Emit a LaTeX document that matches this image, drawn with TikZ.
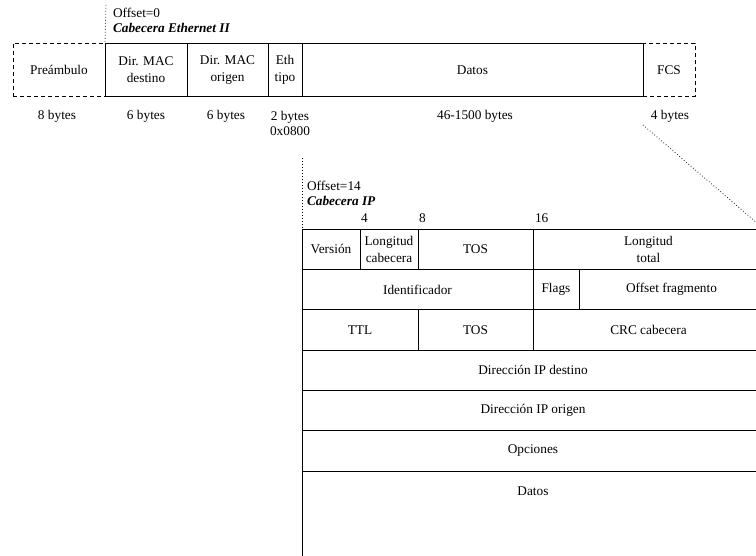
\documentclass[tikz,border=0pt]{standalone}
\usepackage{fontspec}
\setmainfont{Liberation Serif}
\newcommand{\fsz}{\fontsize{13.3}{17}\selectfont}
\newcommand{\fszb}{\fontsize{13.3}{15.5}\selectfont}
\begin{document}
\begin{tikzpicture}[x=1pt,y=-1pt,
  every node/.style={font=\fsz, inner sep=0pt, outer sep=0pt},
  cell/.style={draw, line width=0.9pt, anchor=north west, align=center},
  dcell/.style={cell, dash pattern=on 4pt off 3pt},
  dots/.style={line width=0.8pt, dash pattern=on 0.7pt off 2.3pt},
  lbl/.style={anchor=west},
  ttl/.style={anchor=west, font=\fsz\bfseries\itshape},
  ctr/.style={align=center, font=\fszb}]
\useasboundingbox (0,0) rectangle (756,556);
\clip (0,0) rectangle (756,556);

% Ethernet II frame
\node[dcell, minimum width=92, minimum height=53] (pre) at (13,43.5) {Preámbulo};
\node[dcell, minimum width=52, minimum height=53] (fcs) at (643,43.5) {FCS};
\node[cell, minimum width=82, minimum height=53] (mdst) at (105,43.5) {Dir. MAC\\destino};
\node[cell, minimum width=81, minimum height=53] (msrc) at (187,43.5) {Dir. MAC\\origen};
\node[cell, minimum width=34, minimum height=53] (eth) at (268,43.5) {Eth\\tipo};
\node[cell, minimum width=341, minimum height=53] (edat) at (302,43.5) {Datos};

\node (b1) at (57,116) {8 bytes};
\node (b2) at (146,116) {6 bytes};
\node (b3) at (226,116) {6 bytes};
\node[ctr] (b4) at (290,123.5) {2 bytes\\0x0800};
\node (b5) at (475,116) {46-1500 bytes};
\node (b6) at (670,116) {4 bytes};

\node[lbl] (o0) at (113,13) {Offset=0};
\node[ttl] (c0) at (113,28) {Cabecera Ethernet II};
\coordinate (m0) at (106,5);
\draw[dots] (m0) -- (mdst.north west);

% IP header
\node[lbl] (o14) at (307,186) {Offset=14};
\node[ttl] (c14) at (307,201) {Cabecera IP};
\node[lbl] (k4) at (361,218) {4};
\node[lbl] (k8) at (419,218) {8};
\node[lbl] (k16) at (535,218) {16};

\node[cell, minimum width=58, minimum height=40.33] (ver) at (302,229) {Versión};
\node[cell, minimum width=58, minimum height=40.33] (lcab) at (360,229) {Longitud\\cabecera};
\node[cell, minimum width=115, minimum height=40.33] (tos1) at (418,229) {TOS};
\node[cell, minimum width=231, minimum height=40.33] (ltot) at (533,229) {Longitud\\total};

\node[cell, minimum width=231, minimum height=40.33] (ident) at (302,269.33) {Identificador};
\node[cell, minimum width=46, minimum height=40.33] (flags) at (533,269.33) {Flags};
\node[cell, minimum width=185, minimum height=40.33] (offf) at (579,269.33) {Offset fragmento};

\node[cell, minimum width=116, minimum height=40.33] (ttlc) at (302,309.67) {TTL};
\node[cell, minimum width=115, minimum height=40.33] (tos2) at (418,309.67) {TOS};
\node[cell, minimum width=231, minimum height=40.33] (crc) at (533,309.67) {CRC cabecera};

\node[cell, minimum width=462, minimum height=40.33] (dst) at (302,350) {Dirección IP destino};
\node[cell, minimum width=462, minimum height=40.33] (src) at (302,390.33) {Dirección IP origen};
\node[cell, minimum width=462, minimum height=40.33] (opc) at (302,430.67) {Opciones};
\node[cell, minimum width=462, minimum height=150] (ipbox) at (302,471) {};
\node (ipdt) at (533,491) {Datos};

\coordinate (d1) at (302,158);
\draw[dots] (d1) -- (ver.north west);
\coordinate (d2) at (643,125);
\draw[dots] (d2) -- (ltot.north east);
\end{tikzpicture}
\end{document}
